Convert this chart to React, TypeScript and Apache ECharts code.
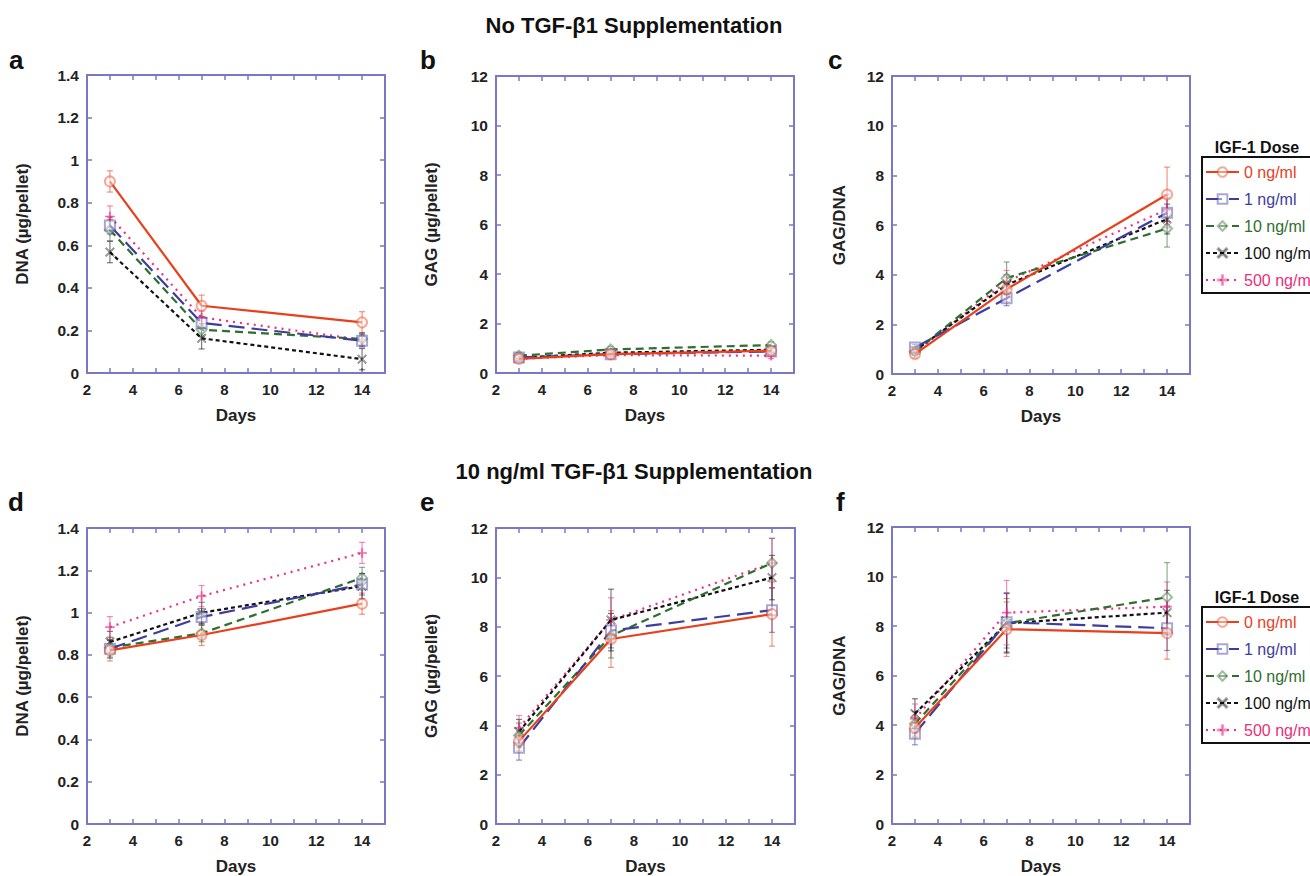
import React, { useEffect, useRef } from "react";
import * as echarts from "echarts";

const FONT = '"Liberation Sans", Arial, Helvetica, sans-serif';

const days = [3, 7, 14];
const doses = ["0 ng/ml", "1 ng/ml", "10 ng/ml", "100 ng/ml", "500 ng/ml"];
const xTickLabels = [2, 4, 6, 8, 10, 12, 14];

// Panel a: DNA, no TGF-b1 (rows = doses)
const panelAMean = [
  [0.9, 0.316, 0.238],
  [0.693, 0.235, 0.152],
  [0.672, 0.203, 0.16],
  [0.568, 0.163, 0.065],
  [0.735, 0.261, 0.156],
];
const panelAErr = [
  [0.05, 0.05, 0.05],
  [0.04, 0.03, 0.03],
  [0.05, 0.03, 0.03],
  [0.05, 0.05, 0.05],
  [0.05, 0.03, 0.03],
];
// Panel b: GAG, no TGF-b1
const panelBMean = [
  [0.57, 0.76, 0.9],
  [0.63, 0.76, 0.87],
  [0.7, 0.95, 1.13],
  [0.62, 0.82, 0.94],
  [0.58, 0.72, 0.7],
];
const panelBErr = [
  [0.12, 0.1, 0.12],
  [0.12, 0.1, 0.12],
  [0.12, 0.12, 0.12],
  [0.12, 0.1, 0.12],
  [0.12, 0.1, 0.12],
];
// Panel c: GAG/DNA, no TGF-b1
const panelCMean = [
  [0.8, 3.41, 7.23],
  [1.07, 3.05, 6.49],
  [0.91, 3.86, 5.86],
  [0.94, 3.59, 6.24],
  [0.87, 3.72, 6.63],
];
const panelCErr = [
  [0.15, 0.5, 1.1],
  [0.12, 0.3, 0.6],
  [0.15, 0.65, 0.75],
  [0.15, 0.4, 0.6],
  [0.12, 0.45, 0.6],
];
// Panel d: DNA, 10 ng/ml TGF-b1
const panelDMean = [
  [0.821, 0.894, 1.042],
  [0.829, 0.979, 1.133],
  [0.834, 0.902, 1.164],
  [0.861, 0.999, 1.125],
  [0.931, 1.078, 1.282],
];
const panelDErr = [
  [0.05, 0.05, 0.05],
  [0.04, 0.04, 0.05],
  [0.05, 0.04, 0.05],
  [0.05, 0.05, 0.06],
  [0.05, 0.05, 0.05],
];
// Panel e: GAG, 10 ng/ml TGF-b1
const panelEMean = [
  [3.36, 7.5, 8.51],
  [3.09, 7.84, 8.67],
  [3.59, 7.63, 10.58],
  [3.74, 8.27, 9.99],
  [3.9, 8.27, 10.58],
];
const panelEErr = [
  [0.4, 1.15, 1.3],
  [0.5, 0.7, 0.9],
  [0.5, 0.9, 1.0],
  [0.5, 1.25, 0.9],
  [0.5, 0.9, 1.0],
];
// Panel f: GAG/DNA, 10 ng/ml TGF-b1
const panelFMean = [
  [3.89, 7.87, 7.71],
  [3.65, 8.15, 7.91],
  [4.05, 8.11, 9.16],
  [4.46, 8.11, 8.54],
  [4.25, 8.54, 8.78],
];
const panelFErr = [
  [0.4, 1.1, 1.05],
  [0.45, 1.2, 0.9],
  [0.5, 1.0, 1.4],
  [0.6, 1.2, 0.9],
  [0.6, 1.3, 1.0],
];

const panelMeans = [panelAMean, panelBMean, panelCMean, panelDMean, panelEMean, panelFMean];
const panelErrs = [panelAErr, panelBErr, panelCErr, panelDErr, panelEErr, panelFErr];
const panelLetters = ["a", "b", "c", "d", "e", "f"];
const yNames = ["DNA (\u00b5g/pellet)", "GAG (\u00b5g/pellet)", "GAG/DNA", "DNA (\u00b5g/pellet)", "GAG (\u00b5g/pellet)", "GAG/DNA"];
const yMaxes = [1.4, 12, 12, 1.4, 12, 12];
const yIntervals = [0.2, 2, 2, 0.2, 2, 2];
const rowTitles = ["No TGF-\u03b21 Supplementation", "10 ng/ml TGF-\u03b21 Supplementation"];

// Layout (pixels)
const grids = [
  { left: 87, top: 75, width: 298, height: 298 },
  { left: 496, top: 76, width: 298, height: 297 },
  { left: 892, top: 76, width: 298, height: 298 },
  { left: 87, top: 528, width: 298, height: 297 },
  { left: 496, top: 528, width: 299, height: 297 },
  { left: 892, top: 527, width: 298, height: 298 },
];
const nameGaps = [56, 56, 44, 56, 56, 44];
const letterPos = [
  [9, 60],
  [420, 60],
  [828, 60],
  [8, 502],
  [420, 502],
  [836, 502],
];

const lineColors = ["#e8401c", "#3d3d9e", "#2f6e2f", "#111111", "#ee2f86"];
const textColors = ["#e8401c", "#3d3d9e", "#2f6e2f", "#111111", "#e8307a"];
const lineTypes: any[] = ["solid", [16, 7], [8, 5], [4, 3], [2, 5]];
const symbols = [
  "emptyCircle",
  "emptyRect",
  "emptyDiamond",
  "path://M1,0L5,4L9,0L10,1L6,5L10,9L9,10L5,6L1,10L0,9L4,5L0,1Z",
  "path://M4.4,0h1.2v4.4h4.4v1.2h-4.4v4.4h-1.2v-4.4h-4.4v-1.2h4.4Z",
];
const symbolOpacity = [0.45, 0.45, 0.45, 0.35, 0.45];
const AXIS_COLOR = "#7878c4";

function buildOption() {
  const xAxis: any[] = [];
  const yAxis: any[] = [];
  const series: any[] = [];

  grids.forEach((g, i) => {
    const common = {
      gridIndex: i,
      type: "value",
      axisLine: { show: true, onZero: false, lineStyle: { color: AXIS_COLOR, width: 2 } },
      axisTick: { show: true, inside: true, length: 5, lineStyle: { color: AXIS_COLOR, width: 1.5 } },
      splitLine: { show: false },
    };
    xAxis.push({
      ...common,
      position: "bottom",
      min: 2,
      max: 15,
      interval: 1,
      axisLabel: {
        margin: 9,
        fontFamily: FONT,
        fontWeight: "bold",
        fontSize: 15,
        color: "#222",
        formatter: (v: number) => (xTickLabels.includes(v) ? String(v) : ""),
      },
      name: "Days",
      nameLocation: "middle",
      nameGap: 34,
      nameTextStyle: { fontFamily: FONT, fontWeight: "bold", fontSize: 17, color: "#222" },
    });
    xAxis.push({
      ...common,
      position: "top",
      min: 2,
      max: 15,
      interval: 1,
      axisLabel: { show: false },
    });
    yAxis.push({
      ...common,
      position: "left",
      min: 0,
      max: yMaxes[i],
      interval: yIntervals[i],
      axisLabel: {
        margin: 8,
        fontFamily: FONT,
        fontWeight: "bold",
        fontSize: 15.5,
        color: "#222",
        formatter: (v: number) => String(Math.round(v * 10) / 10),
      },
      name: yNames[i],
      nameLocation: "middle",
      nameRotate: 90,
      nameGap: nameGaps[i],
      nameTextStyle: { fontFamily: FONT, fontWeight: "bold", fontSize: 17, color: "#222" },
    });
    yAxis.push({
      ...common,
      position: "right",
      min: 0,
      max: yMaxes[i],
      interval: yIntervals[i],
      axisLabel: { show: false },
    });

    const means = panelMeans[i];
    const errs = panelErrs[i];
    doses.forEach((d, j) => {
      const color = lineColors[j];
      series.push({
        type: "custom",
        name: "err-" + d,
        xAxisIndex: i * 2,
        yAxisIndex: i * 2,
        z: 1,
        silent: true,
        encode: { x: 0, y: 1 },
        data: days.map((day, k) => [day, means[j][k], errs[j][k]]),
        renderItem: (params: any, api: any) => {
          const x = api.value(0);
          const y = api.value(1);
          const e = api.value(2);
          const p1 = api.coord([x, y + e]);
          const p2 = api.coord([x, y - e]);
          const w = 3;
          const style = { stroke: color, lineWidth: 1.2, opacity: 0.55 };
          return {
            type: "group",
            children: [
              { type: "line", shape: { x1: p1[0], y1: p1[1], x2: p2[0], y2: p2[1] }, style },
              { type: "line", shape: { x1: p1[0] - w, y1: p1[1], x2: p1[0] + w, y2: p1[1] }, style },
              { type: "line", shape: { x1: p2[0] - w, y1: p2[1], x2: p2[0] + w, y2: p2[1] }, style },
            ],
          };
        },
      });
      series.push({
        type: "line",
        name: d,
        xAxisIndex: i * 2,
        yAxisIndex: i * 2,
        z: 2 + (4 - j) * 0.1,
        data: days.map((day, k) => [day, means[j][k]]),
        symbol: symbols[j],
        symbolSize: j >= 3 ? 9 : 10,
        lineStyle: { color, width: 2.2, type: lineTypes[j] },
        itemStyle: { color, borderColor: color, borderWidth: 1, opacity: symbolOpacity[j] },
        emphasis: { disabled: true },
      });
    });
  });

  const legendData = doses.map((d, j) => ({ name: d, textStyle: { color: textColors[j] } }));
  const legendCommon = {
    orient: "vertical",
    left: 1202,
    itemWidth: 33,
    itemHeight: 12,
    itemGap: 11,
    padding: [7, 10, 5, 3],
    borderColor: "#111",
    borderWidth: 2,
    selectedMode: false,
    textStyle: { fontFamily: FONT, fontSize: 16 },
    data: legendData,
  };

  const graphic: any[] = [];
  panelLetters.forEach((l, i) => {
    graphic.push({
      type: "text",
      x: letterPos[i][0],
      y: letterPos[i][1],
      style: {
        text: l,
        font: `bold 26px ${FONT}`,
        fill: "#111",
        align: "left",
        verticalAlign: "middle",
      },
    });
  });
  graphic.push({
    type: "text",
    x: 634,
    y: 25,
    style: { text: rowTitles[0], font: `bold 22px ${FONT}`, fill: "#111", align: "center", verticalAlign: "middle" },
  });
  graphic.push({
    type: "text",
    x: 634,
    y: 471,
    style: { text: rowTitles[1], font: `bold 22px ${FONT}`, fill: "#111", align: "center", verticalAlign: "middle" },
  });
  [147, 597].forEach((y) => {
    graphic.push({
      type: "text",
      x: 1257,
      y,
      style: { text: "IGF-1 Dose", font: `bold 16px ${FONT}`, fill: "#111", align: "center", verticalAlign: "middle" },
    });
  });

  return {
    animation: false,
    backgroundColor: "#ffffff",
    grid: grids.map((g) => ({ ...g, containLabel: false })),
    xAxis,
    yAxis,
    series,
    legend: [
      { ...legendCommon, top: 157 },
      { ...legendCommon, top: 607 },
    ],
    graphic,
  };
}

export default function App() {
  const ref = useRef<HTMLDivElement>(null);
  useEffect(() => {
    document.body.style.margin = "0";
    if (!ref.current) return;
    const chart = echarts.init(ref.current, null, { renderer: "svg" });
    chart.setOption(buildOption() as any);
    return () => chart.dispose();
  }, []);
  return <div ref={ref} style={{ width: 1310, height: 876, background: "#fff" }} />;
}
